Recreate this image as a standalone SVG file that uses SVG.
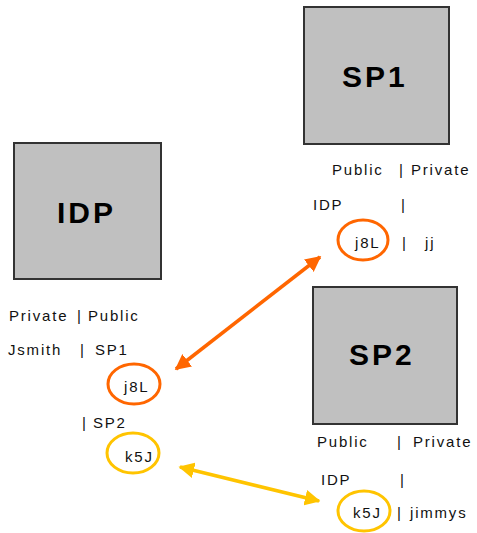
<svg xmlns="http://www.w3.org/2000/svg" width="477" height="533" viewBox="0 0 477 533">
<style>
.box{fill:#c0c0c0;stroke:#333;stroke-width:2}
.big{font-family:"Liberation Sans",Arial,sans-serif;font-weight:bold;font-size:30px;fill:#000;letter-spacing:3px}
.t{font-family:"Liberation Sans",Arial,sans-serif;font-size:15px;fill:#111;letter-spacing:1.8px}
.oc{fill:none;stroke:#ff6600;stroke-width:3}
.yc{fill:none;stroke:#ffc400;stroke-width:3}
</style>
<defs>
<marker id="ao" viewBox="0 0 10 10" refX="9" refY="5" markerWidth="4.5" markerHeight="4.5" orient="auto-start-reverse" markerUnits="strokeWidth"><path d="M0,0L10,5L0,10z" fill="#ff6600"/></marker>
<marker id="ay" viewBox="0 0 10 10" refX="9" refY="5" markerWidth="4.5" markerHeight="4.5" orient="auto-start-reverse" markerUnits="strokeWidth"><path d="M0,0L10,5L0,10z" fill="#ffc400"/></marker>
</defs>
<g id="connectors">
<line x1="176" y1="369" x2="320" y2="257" stroke="#ff6600" stroke-width="3.5" marker-start="url(#ao)" marker-end="url(#ao)"/>
<line x1="180" y1="467" x2="319" y2="501" stroke="#ffc400" stroke-width="3.5" marker-start="url(#ay)" marker-end="url(#ay)"/>
</g>
<g id="idp">
<rect class="box" x="14" y="143" width="147" height="136"/>
<text class="big" x="57" y="223">IDP</text>
<text class="t" x="9" y="321">Private</text><text class="t" x="77" y="321">|</text><text class="t" x="88" y="321">Public</text>
<text class="t" x="8" y="355">Jsmith</text><text class="t" x="80" y="355">|</text><text class="t" x="95" y="355">SP1</text>
<ellipse class="oc" cx="134" cy="384" rx="26" ry="20"/>
<text class="t" x="124" y="392" letter-spacing="0.5">j8L</text>
<text class="t" x="82" y="428">|</text><text class="t" x="93" y="428">SP2</text>
<ellipse class="yc" cx="133" cy="453" rx="26" ry="20"/>
<text class="t" x="125" y="462" letter-spacing="0.5">k5J</text>
</g>
<g id="sp1">
<rect class="box" x="304" y="7" width="145" height="137"/>
<text class="big" x="342" y="87">SP1</text>
<text class="t" x="332" y="175">Public</text><text class="t" x="399" y="175">|</text><text class="t" x="411" y="175">Private</text>
<text class="t" x="313" y="210">IDP</text><text class="t" x="401" y="210">|</text>
<ellipse class="oc" cx="363" cy="240" rx="25" ry="20"/>
<text class="t" x="355" y="248" letter-spacing="0.5">j8L</text>
<text class="t" x="402" y="248">|</text><text class="t" x="425" y="248">jj</text>
</g>
<g id="sp2">
<rect class="box" x="313" y="287" width="144" height="137"/>
<text class="big" x="349" y="365" letter-spacing="5">SP2</text>
<text class="t" x="317" y="447">Public</text><text class="t" x="397" y="447">|</text><text class="t" x="413" y="447">Private</text>
<text class="t" x="321" y="485">IDP</text><text class="t" x="400" y="485">|</text>
<ellipse class="yc" cx="364" cy="511" rx="26" ry="20"/>
<text class="t" x="353" y="518" letter-spacing="0.5">k5J</text>
<text class="t" x="397" y="518">|</text><text class="t" x="410" y="518">jimmys</text>
</g>
</svg>
